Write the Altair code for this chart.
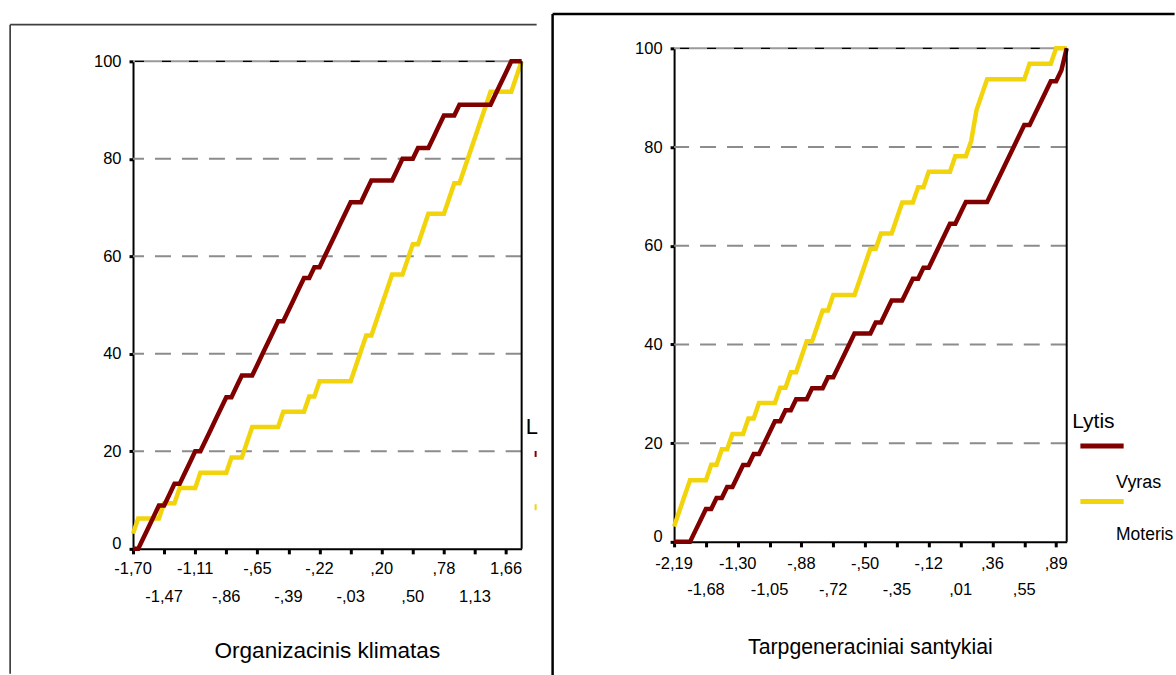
import altair as alt
import pandas as pd

# ---------------- data ----------------
N_VYRAS = 45      # group sizes (cumulative counts are divided by these)
N_MOTERIS = 32
COL_VYRAS = "#800000"
COL_MOTERIS = "#f2d40c"
FONT = "Liberation Sans"

legend_title = "Lytis"
legend_labels = ["Vyras", "Moteris"]
y_ticks = [0, 20, 40, 60, 80, 100]
grid_levels = [20, 40, 60, 80]
LABEL_STEP = 6

left_title = "Organizacinis klimatas"
left_tick_labels = ["-1,70", "-1,47", "-1,11", "-,86", "-,65", "-,39", "-,22",
                    "-,03", ",20", ",50", ",78", "1,13", "1,66"]
left_vyras = [0, 0, 1, 2, 3, 4, 4, 5, 6, 6, 7, 8, 9, 9, 10, 11, 12, 13, 14, 14,
              15, 16, 16, 16, 17, 18, 19, 20, 21, 21, 22, 23, 24, 25, 25, 26, 26, 27, 28, 29,
              30, 31, 32, 32, 32, 33, 34, 34, 34, 34, 34, 35, 36, 36, 36, 37, 37, 37, 38, 39,
              40, 40, 40, 41, 41, 41, 41, 41, 41, 41, 42, 43, 44, 45, 45, 45]
left_moteris = [1, 2, 2, 2, 2, 2, 3, 3, 3, 4, 4, 4, 4, 5, 5, 5, 5, 5, 5, 6,
                6, 6, 7, 8, 8, 8, 8, 8, 8, 9, 9, 9, 9, 9, 10, 10, 11, 11, 11, 11,
                11, 11, 11, 12, 13, 14, 14, 15, 16, 17, 18, 18, 18, 19, 20, 20, 21, 22, 22, 22,
                22, 23, 24, 24, 25, 26, 27, 28, 29, 30, 30, 30, 30, 30, 31, 32]

right_title = "Tarpgeneraciniai santykiai"
right_tick_labels = ["-2,19", "-1,68", "-1,30", "-1,05", "-,88", "-,72", "-,50",
                     "-,35", "-,12", ",01", ",36", ",55", ",89"]
right_vyras = [0, 0, 0, 0, 1, 2, 3, 3, 4, 4, 5, 5, 6, 7, 7, 8, 8, 9, 10, 11,
               11, 12, 12, 13, 13, 13, 14, 14, 14, 15, 15, 16, 17, 18, 19, 19, 19, 19, 20, 20,
               21, 22, 22, 22, 23, 24, 24, 25, 25, 26, 27, 28, 29, 29, 30, 31, 31, 31, 31, 31,
               32, 33, 34, 35, 36, 37, 38, 38, 39, 40, 41, 42, 42, 43, 45]
right_moteris = [1, 2, 3, 4, 4, 4, 4, 5, 5, 6, 6, 7, 7, 7, 8, 8, 9, 9, 9, 9,
                 10, 10, 11, 11, 12, 13, 13, 14, 15, 15, 16, 16, 16, 16, 16, 17, 18, 19, 19, 20,
                 20, 20, 21, 22, 22, 22, 23, 23, 24, 24, 24, 24, 24, 25, 25, 25, 26, 28, 29, 30,
                 30, 30, 30, 30, 30, 30, 30, 31, 31, 31, 31, 31, 32, 32, 32]

one = pd.DataFrame({"k": [0]})


def build_panel(vyras, moteris, tick_labels, title, W, H, o):
    n = len(vyras)
    df = pd.DataFrame({
        "idx": list(range(n)) * 2,
        "pct": [c * 100.0 / N_VYRAS for c in vyras] + [c * 100.0 / N_MOTERIS for c in moteris],
        "sex": ["Vyras"] * n + ["Moteris"] * n,
    })
    xs = alt.Scale(domain=[0, n - 1], nice=False, zero=False)
    ys = alt.Scale(domain=[0, 100], nice=False, zero=False)
    xaxis = alt.Axis(values=[k * LABEL_STEP for k in range(len(tick_labels))], labels=False,
                     title=None, grid=False, tickSize=5, tickWidth=3, tickColor="black",
                     domainColor="black", domainWidth=2)
    yaxis = alt.Axis(values=y_ticks, title=None, grid=False, tickSize=4, tickWidth=3,
                     tickColor="black", domainColor="black", domainWidth=2,
                     labelFont=FONT, labelFontSize=16.5, labelColor="black", labelPadding=8,
                     labelBaseline=alt.condition("datum.value == 0", alt.value("alphabetic"),
                                                 alt.value("middle")))

    def X(f):
        return alt.X(f, scale=xs, axis=xaxis)

    def Y(f):
        return alt.Y(f, scale=ys, axis=yaxis)

    layers = []
    layers.append(alt.Chart(pd.DataFrame({"g": grid_levels})).mark_rule(
        color="#8c8c8c", strokeWidth=2, strokeDash=[16, 11]).encode(y=Y("g:Q")))
    layers.append(alt.Chart(pd.DataFrame({"g": [100]})).mark_rule(
        color="#9a9a9a", strokeWidth=2).encode(y=Y("g:Q")))
    layers.append(alt.Chart(pd.DataFrame({"g": [100]})).mark_rule(
        color="black", strokeWidth=1.2, strokeDash=[9, 18]).encode(y=Y("g:Q")))
    layers.append(alt.Chart(df).transform_filter("datum.sex == 'Moteris'").mark_line(
        color=COL_MOTERIS, strokeWidth=4.5).encode(x=X("idx:Q"), y=Y("pct:Q")))
    layers.append(alt.Chart(df).transform_filter("datum.sex == 'Vyras'").mark_line(
        color=COL_VYRAS, strokeWidth=4.5).encode(x=X("idx:Q"), y=Y("pct:Q")))
    layers.append(alt.Chart(pd.DataFrame({"e": [n - 1]})).mark_rule(
        color="black", strokeWidth=2).encode(x=X("e:Q")))

    tick_df = pd.DataFrame({
        "pos": [k * LABEL_STEP for k in range(len(tick_labels))],
        "lab": tick_labels,
        "row": [k % 2 for k in range(len(tick_labels))],
    })
    for r, off in ((0, o["row1"]), (1, o["row2"])):
        layers.append(alt.Chart(tick_df).transform_filter(f"datum.row == {r}").mark_text(
            font=FONT, fontSize=16.5, color="black", align="center", baseline="alphabetic"
        ).encode(x=X("pos:Q"), y=alt.value(H + off), text="lab:N"))

    layers.append(alt.Chart(one).mark_text(
        text=title, font=FONT, fontSize=o["title_fs"], color="black", align="center",
        baseline="alphabetic").encode(x=alt.value(W / 2), y=alt.value(H + o["title_off"])))

    # outer frame of the panel
    fx, fy, fr, fb = o["frame"]
    layers.append(alt.Chart(one).mark_rule(color=o["frame_col"], strokeWidth=o["frame_w"]).encode(
        x=alt.value(fx), x2=alt.value(fr), y=alt.value(fy)))
    layers.append(alt.Chart(one).mark_rule(color=o["frame_col"], strokeWidth=o["frame_w"]).encode(
        x=alt.value(fx), y=alt.value(fy), y2=alt.value(fb)))

    # legend
    lg = o["legend"]
    layers.append(alt.Chart(one).mark_text(
        text=lg["title"], font=FONT, fontSize=lg["title_fs"], color="black", align="left",
        baseline="alphabetic").encode(x=alt.value(lg["tx"]), y=alt.value(lg["ty"])))
    for col, (sy, lab, ly, lfs) in zip([COL_VYRAS, COL_MOTERIS], lg["items"]):
        layers.append(alt.Chart(one).mark_rect(color=col).encode(
            x=alt.value(lg["sx"][0]), x2=alt.value(lg["sx"][1]),
            y=alt.value(sy - lg["sw"] / 2), y2=alt.value(sy + lg["sw"] / 2)))
        if lab:
            layers.append(alt.Chart(one).mark_text(
                text=lab, font=FONT, fontSize=lfs, color="black", align="left",
                baseline="alphabetic").encode(x=alt.value(lg["lx"]), y=alt.value(ly)))

    panel = alt.layer(*layers).properties(width=W, height=H)
    # invisible strip above the panel that sets its vertical offset
    spacer = alt.Chart(one).mark_rule(color="white", strokeWidth=0.5).encode(
        x=alt.value(0), x2=alt.value(4), y=alt.value(o["shift"] / 2)
    ).properties(width=4, height=o["shift"])
    return alt.vconcat(spacer, panel, spacing=0)


left = build_panel(left_vyras, left_moteris, left_tick_labels, left_title, 389, 488, {
    "row1": 24.9, "row2": 53.2, "title_fs": 22.6, "title_off": 109.1,
    "frame": (-123, -36.7, 404, 613), "frame_col": "#404040", "frame_w": 1.7,
    "shift": 11.1,
    "legend": {"title": legend_title[0], "title_fs": 22, "tx": 393.1, "ty": 372.6,
               "sx": (402, 404), "sw": 6,
               "items": [(393, "", 0, 16), (446.3, "", 0, 16)], "lx": 0},
})

right = build_panel(right_vyras, right_moteris, right_tick_labels, right_title, 393, 494, {
    "row1": 26.7, "row2": 53.3, "title_fs": 21.3, "title_off": 112,
    "frame": (-121.6, -34.4, 501, 640), "frame_col": "black", "frame_w": 2.5,
    "shift": 1,
    "legend": {"title": legend_title, "title_fs": 21, "tx": 398.5, "ty": 380.3,
               "sx": (406.7, 450), "sw": 5,
               "items": [(398.1, legend_labels[0], 439.6, 18), (453.6, legend_labels[1], 492.3, 17.5)],
               "lx": 442.4},
})

chart = alt.hconcat(left, right, spacing=12.6).properties(
    padding={"left": 9.15, "top": 11.05, "right": 0, "bottom": 0},
    background="white",
).configure_view(strokeWidth=0)

chart.save("out.html", embed_options={"renderer": "svg", "actions": False})
